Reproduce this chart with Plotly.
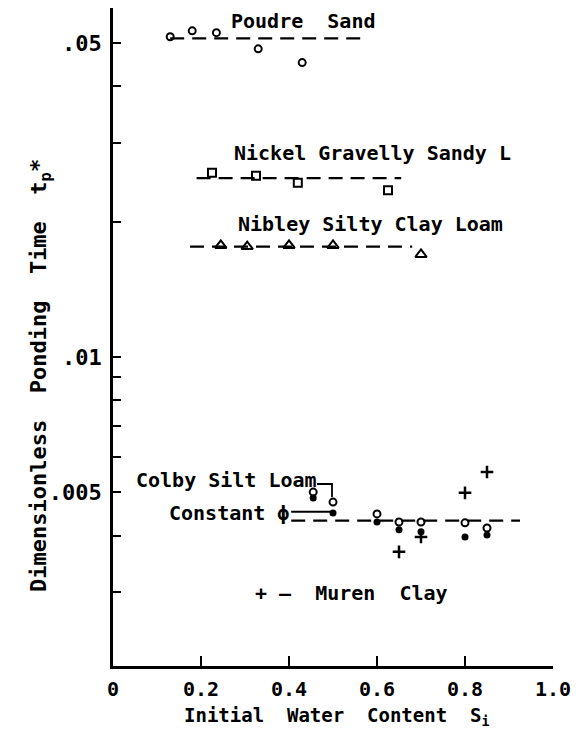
import numpy as np
import plotly.graph_objects as go

# ---------------- data ----------------
x_poudre = [0.13, 0.18, 0.235, 0.33, 0.43]
t_poudre = [0.0516, 0.0532, 0.0527, 0.0485, 0.0452]
poudre_fit_x = [0.13, 0.575]
poudre_fit_t = [0.0512, 0.0512]

x_nickel = [0.225, 0.325, 0.42, 0.625]
t_nickel = [0.0257, 0.0253, 0.0244, 0.0235]
nickel_fit_x = [0.19, 0.655]
nickel_fit_t = [0.0250, 0.0250]

x_nibley = [0.245, 0.305, 0.40, 0.50, 0.70]
t_nibley = [0.0177, 0.0176, 0.0177, 0.0177, 0.0169]
nibley_fit_x = [0.175, 0.68]
nibley_fit_t = [0.0176, 0.0176]

x_colby = [0.455, 0.50, 0.60, 0.65, 0.70, 0.80, 0.85]
t_colby_open = [0.00500, 0.00475, 0.00447, 0.00429, 0.00429, 0.00427, 0.00416]
t_colby_const = [0.00485, 0.00449, 0.00429, 0.00412, 0.00408, 0.00397, 0.00401]
colby_fit_x = [0.405, 0.925]
colby_fit_t = [0.00432, 0.00432]
const_phi_x = [0.405, 0.50]
const_phi_t = [0.00452, 0.00452]

x_muren = [0.65, 0.70, 0.80, 0.85]
t_muren = [0.00368, 0.00397, 0.00498, 0.00554]

x_ticks = [0, 0.2, 0.4, 0.6, 0.8, 1.0]
x_ticktext = ["0", "0.2", "0.4", "0.6", "0.8", "1.0"]
y_ticks = [0.003, 0.004, 0.005, 0.006, 0.007, 0.008, 0.009,
           0.01, 0.02, 0.03, 0.04, 0.05]
y_ticktext = ["", "", ".005", "", "", "", "", ".01", "", "", "", ".05"]

# ---------------- layout helpers ----------------
W, H = 581, 736
L, R, T, B = 113, 28, 8, 70
PW, PH = W - L - R, H - T - B


def px(X):
    return (X - L) / PW


def py(Y):
    return (H - B - Y) / PH


FONT = "DejaVu Sans Mono"
WEIGHT = "bold"
BLACK = "black"
DASH = "14px,8px"

fig = go.Figure()


def fit_line(xs, ts, dash=DASH):
    fig.add_trace(go.Scatter(x=xs, y=ts, mode="lines",
                             line=dict(color=BLACK, width=2.2, dash=dash),
                             showlegend=False, hoverinfo="skip"))


fit_line(poudre_fit_x, poudre_fit_t)
fit_line(nickel_fit_x, nickel_fit_t)
fit_line(nibley_fit_x, nibley_fit_t)
fit_line(colby_fit_x, colby_fit_t)
fit_line(const_phi_x, const_phi_t, dash="solid")


def pts(xs, ts, symbol, size, lw=2, name=""):
    fig.add_trace(go.Scatter(x=xs, y=ts, mode="markers", name=name,
                             marker=dict(symbol=symbol, size=size, color=BLACK,
                                         line=dict(color=BLACK, width=lw)),
                             showlegend=False))


pts(x_poudre, t_poudre, "circle-open", 7, name="Poudre Sand")
pts(x_nickel, t_nickel, "square-open", 8, name="Nickel Gravelly Sandy L")
pts(x_nibley, t_nibley, "triangle-up-open", 10, name="Nibley Silty Clay Loam")
pts(x_colby, t_colby_open, "circle-open", 7, name="Colby Silt Loam")
pts(x_colby, t_colby_const, "circle", 7, lw=0, name="Colby constant phi")
pts(x_muren, t_muren, "cross-thin-open", 9, lw=2.5, name="Muren Clay")

labels = [
    ("Poudre  Sand", 229, 21),
    ("Nickel Gravelly Sandy L", 232, 153),
    ("Nibley Silty Clay Loam", 236, 224),
    ("Colby Silt Loam", 134, 480),
    ("Constant ϕ", 167, 513),
    ("+ –  Muren  Clay", 253, 593),
]
ann = []
for txt, X, Y in labels:
    ann.append(dict(text=txt, x=px(X), y=py(Y), xref="paper", yref="paper",
                    xanchor="left", yanchor="middle", showarrow=False,
                    font=dict(family=FONT, size=20, color=BLACK, weight=WEIGHT)))

ann.append(dict(text="Dimensionless  Ponding  Time  t<sub>p</sub>*",
                x=px(40), y=py(376), xref="paper", yref="paper",
                xanchor="center", yanchor="middle", textangle=-90,
                showarrow=False,
                font=dict(family=FONT, size=22, color=BLACK, weight=WEIGHT)))
ann.append(dict(text="Initial  Water  Content  S<sub>i</sub>",
                x=px(336), y=py(716), xref="paper", yref="paper",
                xanchor="center", yanchor="middle",
                showarrow=False,
                font=dict(family=FONT, size=19, color=BLACK, weight=WEIGHT)))

shapes = [
    # leader from "Colby Silt Loam" label to its point
    dict(type="path", xref="paper", yref="paper",
         path=f"M {px(317)},{py(484)} L {px(332)},{py(484)} L {px(332)},{py(497)}",
         line=dict(color=BLACK, width=1.8)),
]

fig.update_layout(
    width=W, height=H,
    margin=dict(l=L, r=R, t=T, b=B, pad=0),
    plot_bgcolor="white", paper_bgcolor="white",
    annotations=ann, shapes=shapes,
    xaxis=dict(range=[0, 1.0], tickvals=x_ticks, ticktext=x_ticktext,
               ticks="inside", ticklen=10, tickwidth=2, tickcolor=BLACK,
               showline=True, linewidth=2.5, linecolor=BLACK,
               showgrid=False, zeroline=False, ticklabelstandoff=3,
               tickfont=dict(family=FONT, size=20, color=BLACK, weight=WEIGHT)),
    yaxis=dict(type="log", range=[np.log10(0.00205), np.log10(0.0598)],
               tickvals=y_ticks, ticktext=y_ticktext,
               ticks="inside", ticklen=8, tickwidth=2, tickcolor=BLACK,
               showline=True, linewidth=2.5, linecolor=BLACK,
               showgrid=False, zeroline=False, ticklabelstandoff=4,
               tickfont=dict(family=FONT, size=22, color=BLACK, weight=WEIGHT)),
)

fig.write_html("out.html")
